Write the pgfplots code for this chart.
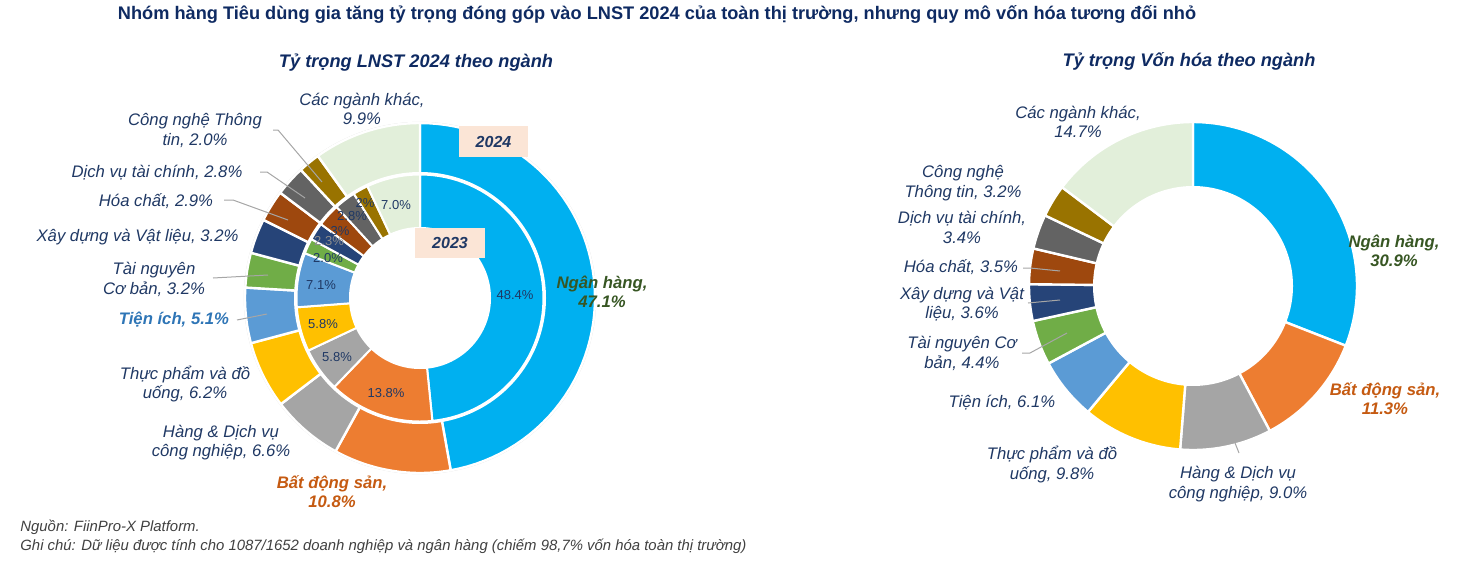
\documentclass[border=0pt]{standalone}
\usepackage{pgfplots}
\pgfplotsset{compat=1.18}
\usepgfplotslibrary{polar}
\usepackage{fontspec}
\setmainfont{Liberation Sans}
\definecolor{cNH}{HTML}{00B0F0}
\definecolor{cBDS}{HTML}{ED7D31}
\definecolor{cHDV}{HTML}{A5A5A5}
\definecolor{cTP}{HTML}{FFC000}
\definecolor{cTI}{HTML}{5B9BD5}
\definecolor{cTN}{HTML}{70AD47}
\definecolor{cXD}{HTML}{264478}
\definecolor{cHC}{HTML}{9E480E}
\definecolor{cDVTC}{HTML}{636363}
\definecolor{cCNTT}{HTML}{997300}
\definecolor{cKhac}{HTML}{E2EFDA}
\definecolor{navy}{HTML}{1F3864}
\definecolor{titlec}{HTML}{0E2A62}
\definecolor{lgreen}{HTML}{375623}
\definecolor{lorange}{HTML}{C55A11}
\definecolor{lblue}{HTML}{2E75B6}
\definecolor{leader}{HTML}{A6A6A6}
\definecolor{boxc}{HTML}{FBE5D6}
\definecolor{foot}{HTML}{404040}

% values (%) clockwise from 12 o'clock
\def\ringLNSTtwentyfour{47.1/cNH, 10.8/cBDS, 6.6/cHDV, 6.2/cTP, 5.1/cTI, 3.2/cTN, 3.2/cXD, 2.9/cHC, 2.8/cDVTC, 2.0/cCNTT, 9.9/cKhac}
\def\ringLNSTtwentythree{48.4/cNH, 13.8/cBDS, 5.8/cHDV, 5.8/cTP, 7.1/cTI, 2.0/cTN, 2.3/cXD, 3.0/cHC, 2.8/cDVTC, 2.0/cCNTT, 7.0/cKhac}
\def\ringVH{30.9/cNH, 11.3/cBDS, 9.0/cHDV, 9.8/cTP, 6.1/cTI, 4.4/cTN, 3.6/cXD, 3.5/cHC, 3.4/cDVTC, 3.2/cCNTT, 14.7/cKhac}

\newcommand\donut[3]{% #1 radius, #2 list macro, #3 separator width
  \gdef\tot{0}%
  \foreach \v/\col in #2 {\pgfmathsetmacro\tmpv{\tot+\v}\xdef\tot{\tmpv}}%
  \gdef\cum{0}%
  \foreach \v/\col in #2 {%
    \pgfmathsetmacro\ta{90-((\cum+\v)/\tot)*360}%
    \pgfmathsetmacro\tb{90-(\cum/\tot)*360}%
    \edef\doit{\noexpand\addplot[fill=\col, draw=white, line width=#3, line join=round, domain=\ta:\tb, samples=60] {#1} -- (axis cs:0,0) -- cycle;}%
    \doit
    \pgfmathsetmacro\tmpv{\cum+\v}\xdef\cum{\tmpv}%
  }%
}

\newcommand\lab{\fontsize{8.35}{9.8}\selectfont\itshape}
\newcommand\inl{\fontsize{6.5}{7.5}\selectfont}

\begin{document}
\begin{tikzpicture}
\path[use as bounding box] (0,0) rectangle (735.5pt,-283.5pt);

% ---------- left donut ----------
\begin{polaraxis}[at={(210pt,-149pt)}, anchor=center, width=175pt, height=175pt,
  scale only axis, hide axis, clip=false, xmin=0, xmax=360, ymin=0, ymax=175]
  \addplot[draw=black!15, line width=0.6pt, domain=0:360, samples=200] {175.6};
  \donut{175}{\ringLNSTtwentyfour}{1.2pt}
  \addplot[fill=white, draw=none, domain=0:360, samples=200] {126};
  \donut{123.5}{\ringLNSTtwentythree}{1pt}
  \addplot[fill=white, draw=none, domain=0:360, samples=200] {71};
\end{polaraxis}

% ---------- right donut ----------
\begin{polaraxis}[at={(596.5pt,-143pt)}, anchor=center, width=164pt, height=164pt,
  scale only axis, hide axis, clip=false, xmin=0, xmax=360, ymin=0, ymax=164]
  \donut{164}{\ringVH}{1.2pt}
  \addplot[fill=white, draw=none, domain=0:360, samples=200] {100};
\end{polaraxis}

\begin{scope}[x=0.5pt,y=-0.5pt]
% ---------- titles ----------
\node[font=\fontsize{9.1}{10}\selectfont\bfseries, text=titlec] at (657,14) {Nhóm hàng Tiêu dùng gia tăng tỷ trọng đóng góp vào LNST 2024 của toàn thị trường, nhưng quy mô vốn hóa tương đối nhỏ};
\node[font=\fontsize{9.1}{11}\selectfont\bfseries\itshape, text=titlec] at (416,63) {Tỷ trọng LNST 2024 theo ngành};
\node[font=\fontsize{9.1}{11}\selectfont\bfseries\itshape, text=titlec] at (1189,61) {Tỷ trọng Vốn hóa theo ngành};

% ---------- year boxes ----------
\node[fill=boxc, minimum width=34.5pt, minimum height=15.5pt, inner sep=0pt, font=\fontsize{8}{9}\selectfont\bfseries\itshape, text=navy] at (493.5,141.5) {2024};
\node[fill=boxc, minimum width=35pt, minimum height=15pt, inner sep=0pt, font=\fontsize{8}{9}\selectfont\bfseries\itshape, text=navy] at (450,243) {2023};

% ---------- inner ring labels ----------
\begin{scope}[every node/.style={font=\inl, text=navy, inner sep=0pt}]
\node at (515,295) {48.4\%};
\node at (386,393) {13.8\%};
\node at (337,357) {5.8\%};
\node at (323,324) {5.8\%};
\node at (321,285) {7.1\%};
\node at (328,258) {2.0\%};
\node[text=black!45] at (329,241) {2.3\%};
\node at (340,231) {3\%};
\node at (352,216) {2.8\%};
\node at (365,203) {2\%};
\node at (396,205) {7.0\%};
\end{scope}

% ---------- leader lines ----------
\begin{scope}[draw=leader, line width=0.5pt]
\draw (273,130) -- (278,130) -- (322,182);
\draw (260,172) -- (267,172) -- (305,198);
\draw (224,200) -- (233,200) -- (288,220);
\draw (213,278) -- (268,275);
\draw (237,320) -- (267,314);
\draw (1023,268) -- (1030,268) -- (1060,271);
\draw (1028,303) -- (1060,300);
\draw (1022,353) -- (1030,353) -- (1067,333);
\draw (1235,443) -- (1239,453);
\end{scope}

% ---------- outer labels ----------
\begin{scope}[every node/.style={font=\lab, text=navy, align=center, inner sep=0pt}]
\node at (362,109) {Các ngành khác,\\9.9\%};
\node at (195,130.5) {Công nghệ Thông\\tin, 2.0\%};
\node at (157,173) {Dịch vụ tài chính, 2.8\%};
\node at (156,201) {Hóa chất, 2.9\%};
\node at (137.5,237) {Xây dựng và Vật liệu, 3.2\%};
\node at (154,279.5) {Tài nguyên\\Cơ bản, 3.2\%};
\node[font=\lab\bfseries, text=lblue] at (174,320) {Tiện ích, 5.1\%};
\node at (185,384) {Thực phẩm và đồ\\uống, 6.2\%};
\node at (221,442.5) {Hàng \& Dịch vụ\\công nghiệp, 6.6\%};
\node[font=\lab\bfseries, text=lorange] at (332,491.5) {Bất động sản,\\10.8\%};
\node[font=\lab\bfseries, text=lgreen] at (602,292) {Ngân hàng,\\47.1\%};
% right
\node at (1078,122) {Các ngành khác,\\14.7\%};
\node[font=\lab\bfseries, text=lgreen] at (1394,251) {Ngân hàng,\\30.9\%};
\node[font=\lab\bfseries, text=lorange] at (1385,398.5) {Bất động sản,\\11.3\%};
\node at (1238,484) {Hàng \& Dịch vụ\\công nghiệp, 9.0\%};
\node at (1052,464.5) {Thực phẩm và đồ\\uống, 9.8\%};
\node at (1002,403) {Tiện ích, 6.1\%};
\node at (963,183) {Công nghệ\\Thông tin, 3.2\%};
\node at (962,227.5) {Dịch vụ tài chính,\\3.4\%};
\node at (961,267) {Hóa chất, 3.5\%};
\node at (962,304) {Xây dựng và Vật\\liệu, 3.6\%};
\node at (962,353.5) {Tài nguyên Cơ\\bản, 4.4\%};
\end{scope}

% ---------- footer ----------
\begin{scope}[every node/.style={font=\fontsize{7.45}{8}\selectfont\itshape, text=foot, anchor=west, inner sep=0pt}]
\node at (20,527) {Nguồn: FiinPro-X Platform.};
\node at (20,546) {Ghi chú: Dữ liệu được tính cho 1087/1652 doanh nghiệp và ngân hàng (chiếm 98,7\% vốn hóa toàn thị trường)};
\end{scope}
\end{scope}
\end{tikzpicture}
\end{document}
